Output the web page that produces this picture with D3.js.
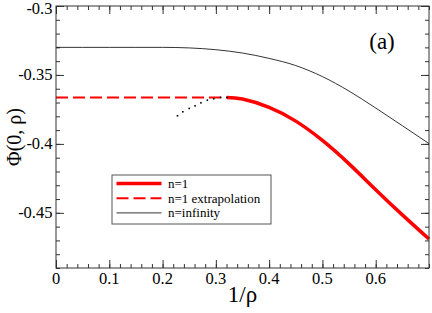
<!DOCTYPE html>
<html>
<head>
<meta charset="utf-8">
<script src="https://cdn.jsdelivr.net/npm/d3@7"></script>
<style>
  body { margin: 0; background: #fff; }
  svg text { font-family: "Liberation Serif", "DejaVu Serif", serif; fill: #000; }
</style>
</head>
<body>
<svg id="chart"></svg>
<script>
const width = 432;
const height = 313;
const serif = "Liberation Serif, DejaVu Serif, serif";

// data
const nInfX = [0, 0.05, 0.1, 0.15, 0.2, 0.25, 0.3, 0.35, 0.4, 0.45, 0.5, 0.55, 0.6, 0.65, 0.7];
const nInfY = [-0.33, -0.33, -0.33, -0.33, -0.33, -0.3304, -0.3317, -0.3341, -0.338, -0.3432, -0.3512, -0.3617, -0.374, -0.3868, -0.3998];

const n1X = [0.321, 0.35, 0.4, 0.45, 0.5, 0.55, 0.6, 0.65, 0.7];
const n1Y = [-0.3663, -0.3675, -0.3735, -0.3835, -0.3975, -0.4145, -0.4332, -0.4515, -0.469];

const extrapX = [0, 0.321];
const extrapY = [-0.3663, -0.3663];

const dotX = [0.228, 0.238, 0.25, 0.261, 0.272, 0.284, 0.296, 0.309, 0.321];
const dotY = [-0.3796, -0.3767, -0.3743, -0.3724, -0.3702, -0.3683, -0.3673, -0.3663, -0.3663];

const xTicks = [0, 0.1, 0.2, 0.3, 0.4, 0.5, 0.6];
const yTicks = [-0.45, -0.4, -0.35, -0.3];

const margin = { top: 6, right: 3, bottom: 45, left: 56 };
const iw = width - margin.left - margin.right;
const ih = height - margin.top - margin.bottom;

const svg = d3.select("#chart").attr("width", width).attr("height", height);
const g = svg.append("g").attr("transform", `translate(${margin.left},${margin.top})`);

const x = d3.scaleLinear().domain([0, 0.7]).range([0, iw]);
const y = d3.scaleLinear().domain([-0.49, -0.3]).range([ih, 0]);

const xMinor = d3.range(0, 0.7001, 0.02);
const yMinor = d3.range(-0.49, -0.2999, 0.01);

// ticks on all four sides, pointing inward
function ticks(axis, scale, vals, size) {
  return axis(scale).tickValues(vals).tickSize(size).tickSizeOuter(0).tickFormat("");
}

const axes = [
  [d3.axisTop, x, `translate(0,${ih})`],
  [d3.axisBottom, x, `translate(0,0)`],
  [d3.axisRight, y, `translate(0,0)`],
  [d3.axisLeft, y, `translate(${iw},0)`]
];
axes.forEach(([ax, sc, tr], i) => {
  const minor = i < 2 ? xMinor : yMinor;
  const major = i < 2 ? xTicks : yTicks;
  [[minor, 4], [major, 8]].forEach(([vals, size]) => {
    const a = g.append("g").attr("transform", tr).call(ticks(ax, sc, vals, size));
    a.select(".domain").remove();
    a.selectAll("line").attr("stroke", "#333");
  });
});

// tick labels
g.selectAll(".xl").data(xTicks).enter().append("text")
  .attr("x", d => x(d)).attr("y", ih + 16)
  .attr("text-anchor", "middle").attr("font-size", 16.5).attr("font-family", serif)
  .text(d => d3.format("")(d));
g.selectAll(".yl").data(yTicks).enter().append("text")
  .attr("x", -3.5).attr("y", d => Math.max(y(d) + 5.5, 7.5))
  .attr("text-anchor", "end").attr("font-size", 16.5).attr("font-family", serif)
  .text(d => d3.format("")(d).replace("−", "-"));

const line = d3.line().x(d => x(d[0])).y(d => y(d[1]));
const monotone = d3.line().x(d => x(d[0])).y(d => y(d[1])).curve(d3.curveMonotoneX);
const natural = d3.line().x(d => x(d[0])).y(d => y(d[1])).curve(d3.curveNatural);

g.append("path").datum(d3.zip(nInfX, nInfY)).attr("d", monotone)
  .attr("fill", "none").attr("stroke", "#000").attr("stroke-width", 0.8);

g.append("path").datum(d3.zip(extrapX, extrapY)).attr("d", line)
  .attr("fill", "none").attr("stroke", "#ff0000").attr("stroke-width", 2)
  .attr("stroke-dasharray", "12,5");

g.append("path").datum(d3.zip(n1X, n1Y)).attr("d", natural)
  .attr("fill", "none").attr("stroke", "#ff0000").attr("stroke-width", 3.5);

g.selectAll(".dot").data(d3.zip(dotX, dotY)).enter().append("rect")
  .attr("x", d => x(d[0]) - 0.8).attr("y", d => y(d[1]) - 0.8)
  .attr("width", 1.6).attr("height", 1.6).attr("fill", "#000");

// frame
g.append("rect").attr("width", iw).attr("height", ih)
  .attr("fill", "none").attr("stroke", "#333").attr("stroke-width", 1);

// legend
const legendItems = [
  { label: "n=1", color: "#ff0000", w: 3.5, dash: null },
  { label: "n=1 extrapolation", color: "#ff0000", w: 2, dash: "12,5" },
  { label: "n=infinity", color: "#000", w: 0.8, dash: null }
];
const leg = svg.append("g").attr("transform", "translate(112,175)");
leg.append("rect").attr("width", 159).attr("height", 49)
  .attr("fill", "#fff").attr("stroke", "#555").attr("stroke-width", 1);
legendItems.forEach((it, i) => {
  const ly = 8.5 + i * 14.7;
  leg.append("line").attr("x1", 4.5).attr("x2", 49.5).attr("y1", ly).attr("y2", ly)
    .attr("stroke", it.color).attr("stroke-width", it.w)
    .attr("stroke-dasharray", it.dash);
  leg.append("text").attr("x", 56).attr("y", ly + 4.5)
    .attr("font-size", 13).attr("font-family", serif).text(it.label);
});

// axis titles
svg.append("text").attr("x", margin.left + iw / 2).attr("y", 302)
  .attr("text-anchor", "middle").attr("font-size", 23).attr("font-family", serif).text("1/ρ");
svg.append("text").attr("transform", `translate(21,${margin.top + ih / 2}) rotate(-90)`)
  .attr("text-anchor", "middle").attr("font-size", 20).attr("font-family", serif).text("Φ(0, ρ)");

svg.append("text").attr("x", 382).attr("y", 49)
  .attr("text-anchor", "middle").attr("font-size", 23).attr("font-family", serif).text("(a)");
</script>
</body>
</html>
